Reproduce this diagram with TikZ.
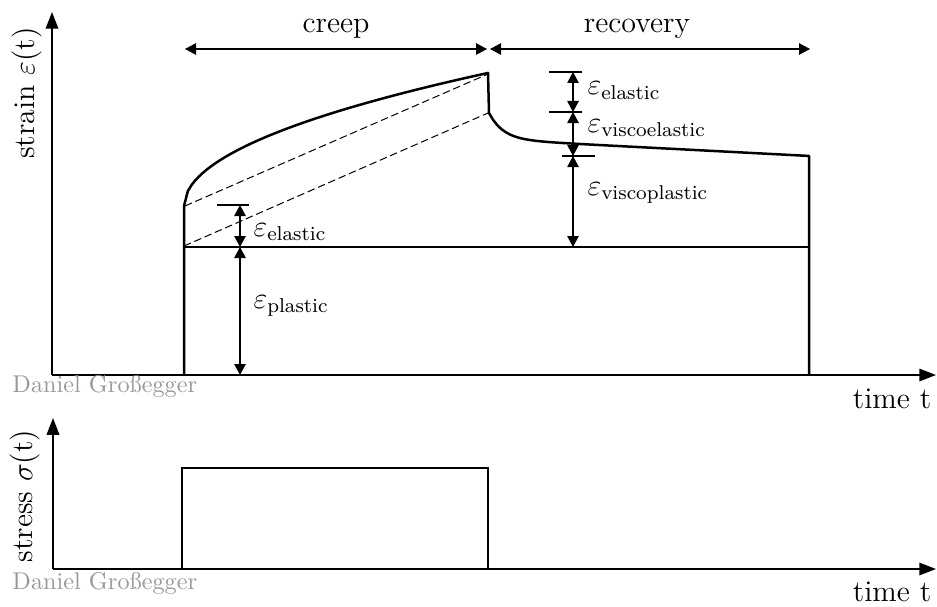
\documentclass[tikz,border=0pt]{standalone}
\usepackage{fontspec}
\usepackage{amsmath}
\usetikzlibrary{arrows.meta}

\begin{document}
\begin{tikzpicture}[x=0.4pt, y=-0.4pt,
    font=\fontsize{12}{14}\selectfont,
    axis/.style={line width=0.7pt, -{Triangle[length=6.7pt, width=5pt]}},
    dim/.style={line width=0.45pt, {Triangle[length=4.4pt, width=4.6pt]}-{Triangle[length=4.4pt, width=4.6pt]}},
    dimtick/.style={line width=0.45pt},
    curve/.style={line width=1pt, line join=round},
    guide/.style={line width=0.4pt, dash pattern=on 3pt off 1.5pt},
    load/.style={line width=0.6pt},
    lbl/.style={anchor=base west, inner sep=0pt},
    sign/.style={text=black!40, font=\fontsize{9.7}{11}\selectfont, anchor=base west, inner sep=0pt}]
    \useasboundingbox (0,0) rectangle (937,606);

    % Strain axes
    \coordinate (o1) at (52,375);
    \coordinate (y1) at (52,12);
    \coordinate (x1) at (936,375);
    \draw[axis] (o1) -- (y1);
    \draw[axis] (o1) -- (x1);
    \node[rotate=90] (strainlbl) at (27,93) {strain $\varepsilon$(t)};
    \node[anchor=base, inner sep=0pt] (timeA) at (892,408) {time t};
    \node[sign] (signA) at (12,392) {Daniel Großegger};

    % Creep and recovery phases
    \coordinate (cs) at (185,49);
    \coordinate (ce) at (487,49);
    \coordinate (rs) at (490,49);
    \coordinate (re) at (810,49);
    \draw[dim] (cs) -- (ce);
    \draw[dim] (rs) -- (re);
    \node[anchor=base] (creeplbl) at (336,33) {creep};
    \node[anchor=base] (recoverylbl) at (637,33) {recovery};

    % Strain response
    \draw[curve] (184,375) -- (184,206)
        -- plot[domain=184:488, samples=80] (\x, {206-7.63*sqrt(\x-184)})
        -- (489,113)
        -- plot[domain=489:809, samples=80] (\x, {139.3+0.052*(\x-489)-26.3*exp(-(\x-489)/14)})
        -- (809,375);
    \draw[line width=0.5pt] (184,247) -- (809,247);
    \draw[guide] (185,206) -- (488,74);
    \draw[guide] (184,246) -- (488,113);

    % Creep components
    \coordinate (la) at (240,205);
    \coordinate (lb) at (240,247);
    \coordinate (lc) at (240,375);
    \draw[dimtick] (217,205) -- (249,205);
    \draw[dim] (la) -- (lb);
    \draw[dim] (lb) -- (lc);
    \node[lbl] (elA) at (253,236) {$\varepsilon_\mathrm{elastic}$};
    \node[lbl] (pl) at (253,308) {$\varepsilon_\mathrm{plastic}$};

    % Recovery components
    \coordinate (ra) at (573,72);
    \coordinate (rb) at (573,112);
    \coordinate (rc) at (573,156);
    \coordinate (rd) at (573,247);
    \draw[dimtick] (549,72) -- (582,72);
    \draw[dimtick] (549,112) -- (582,112);
    \draw[dimtick] (562,156) -- (595,156);
    \draw[dim] (ra) -- (rb);
    \draw[dim] (rb) -- (rc);
    \draw[dim] (rc) -- (rd);
    \node[lbl] (elB) at (587,95) {$\varepsilon_\mathrm{elastic}$};
    \node[lbl] (ve) at (587,132) {$\varepsilon_\mathrm{viscoelastic}$};
    \node[lbl] (vp) at (587,195) {$\varepsilon_\mathrm{viscoplastic}$};

    % Stress axes
    \coordinate (o2) at (53,569);
    \coordinate (y2) at (53,418);
    \coordinate (x2) at (936,569);
    \draw[axis] (o2) -- (y2);
    \draw[axis] (o2) -- (x2);
    \node[rotate=90] (stresslbl) at (25,496) {stress $\sigma$(t)};
    \node[anchor=base, inner sep=0pt] (timeB) at (892,601) {time t};
    \node[sign] (signB) at (12,589) {Daniel Großegger};

    % Applied load
    \draw[load] (182,569) -- (182,468) -- (488,468) -- (488,569);
\end{tikzpicture}
\end{document}
